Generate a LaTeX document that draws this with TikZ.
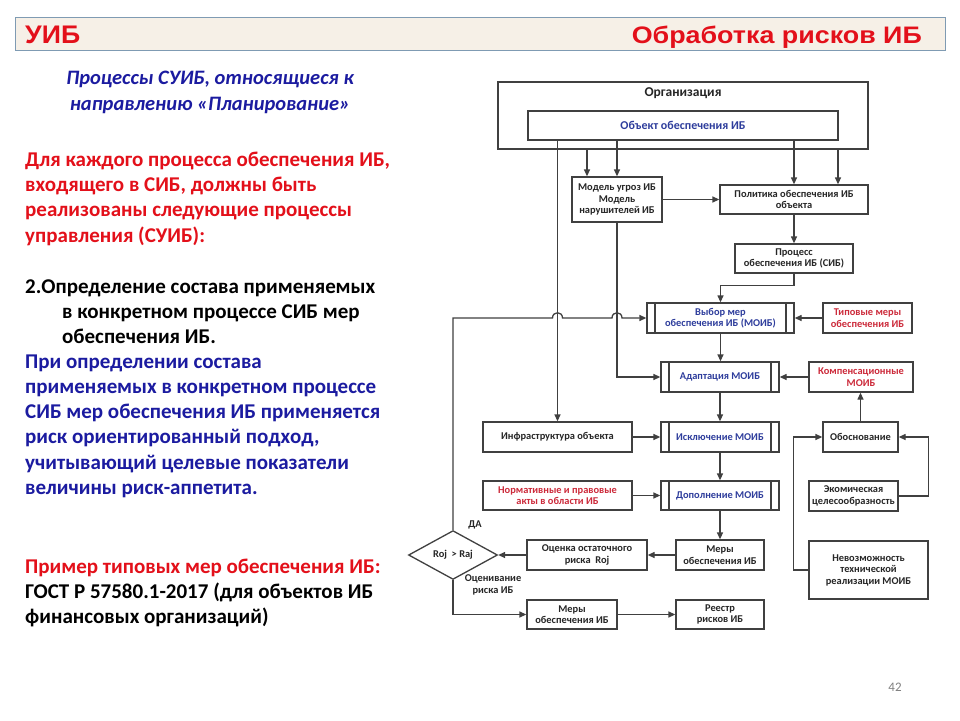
\documentclass[tikz,border=0pt]{standalone}
\usepackage{graphicx}
\usepackage{fontspec}
\setmainfont{Carlito}
\newfontfamily\arialfont{Liberation Sans}
\usetikzlibrary{shapes.geometric,arrows.meta}
\definecolor{hdrfill}{HTML}{F6F0E7}
\definecolor{hdrdraw}{HTML}{7F9BB3}
\definecolor{tred}{HTML}{E3101A}
\definecolor{tblue}{HTML}{1B1BA0}
\definecolor{dblue}{HTML}{2E3D9C}
\definecolor{dred}{HTML}{CC2A3A}
\definecolor{lin}{HTML}{404040}
\begin{document}
\begin{tikzpicture}[x=1pt,y=-1pt,
 box/.style={draw=lin, line width=1.3pt, fill=white, align=center, inner sep=1pt,
   font=\fontsize{10.4}{11.5}\selectfont\bfseries, text=black!85},
 dbox/.style={box, path picture={\draw[lin, line width=1.3pt]
   ([xshift=8pt]path picture bounding box.north west) -- ([xshift=8pt]path picture bounding box.south west)
   ([xshift=-8pt]path picture bounding box.north east) -- ([xshift=-8pt]path picture bounding box.south east);}},
 ln/.style={draw=lin, line width=1.3pt},
 arr/.style={ln, -{Triangle[length=7pt,width=6pt]}},
 lt/.style={anchor=base west, align=left, inner sep=0pt, font=\fontsize{21}{25.3}\selectfont\bfseries},
 lbl/.style={inner sep=0pt, align=center, font=\fontsize{10.4}{11.5}\selectfont\bfseries, text=black!85}
]
\useasboundingbox (0,0) rectangle (960,720);
\fill[white] (0,0) rectangle (960,720);

% header
\node[draw=hdrdraw, fill=hdrfill, line width=1pt, minimum width=930pt, minimum height=33pt, inner sep=0pt] (hdr) at (480,33.5) {};
\node[anchor=base west, text=tred, inner sep=0pt] (h1) at (25,43) {\resizebox{55pt}{17.5pt}{\arialfont\bfseries УИБ}};
\node[anchor=base east, text=tred, inner sep=0pt] (h2) at (922,43) {\resizebox{290pt}{17.5pt}{\arialfont\bfseries Обработка рисков ИБ}};

% left text (anchor = baseline of last line)
\node[anchor=base, align=center, inner sep=0pt, font=\fontsize{20.5}{26}\selectfont\bfseries\itshape, text=tblue] (ttl) at (210,110)
  {Процессы СУИБ, относящиеся к\\направлению «Планирование»};
\node[lt, text=tred] (t1) at (25,242) {Для каждого процесса обеспечения ИБ,\\входящего в СИБ, должны быть\\реализованы  следующие процессы\\управления  (СУИБ):};
\node[lt, text=black] (t2) at (25,343.6) {2.Определение состава применяемых\\\hspace*{37pt}в конкретном  процессе СИБ мер\\\hspace*{37pt}обеспечения  ИБ.};
\node[lt, text=tblue] (t3) at (25,494.5) {При определении состава\\применяемых в конкретном  процессе\\СИБ мер обеспечения  ИБ применяется\\риск ориентированный  подход,\\учитывающий целевые показатели\\величины риск-аппетита.};
\node[lt, text=tred] (t4) at (25,573) {Пример типовых мер обеспечения ИБ:};
\node[lt, text=black] (t5) at (25,623.3) {ГОСТ Р 57580.1-2017 (для объектов ИБ\\финансовых организаций)};

% diagram boxes
\node[box, minimum width=370pt, minimum height=67pt] (org) at (683,115.5) {};
\node[lbl, font=\fontsize{13.5}{15}\selectfont\bfseries] (orgt) at (683,93) {Организация};
\node[box, minimum width=310pt, minimum height=29pt, text=dblue, font=\fontsize{12}{13}\selectfont\bfseries] (obj) at (683,125.5) {Объект обеспечения ИБ};
\node[box, minimum width=90pt, minimum height=45pt] (model) at (617,199.5) {Модель угроз ИБ\\Модель\\нарушителей ИБ};
\node[box, minimum width=148pt, minimum height=29pt] (pol) at (794,199.5) {Политика обеспечения ИБ\\объекта};
\node[box, minimum width=118pt, minimum height=29pt] (proc) at (794,258.5) {Процесс\\обеспечения ИБ (СИБ)};
\node[dbox, minimum width=147pt, minimum height=30pt, text=dblue] (vybor) at (720.5,318) {Выбор мер\\обеспечения ИБ (МОИБ)};
\node[box, minimum width=89pt, minimum height=30pt, text=dred] (tip) at (867.5,318) {Типовые меры\\обеспечения ИБ};
\node[dbox, minimum width=118pt, minimum height=30pt, text=dblue] (adapt) at (720,377) {Адаптация МОИБ};
\node[box, minimum width=104pt, minimum height=30pt, text=dred] (komp) at (861,377) {Компенсационные\\МОИБ};
\node[box, minimum width=149pt, minimum height=30pt] (infra) at (557.5,437) {Инфраструктура объекта};
\node[dbox, minimum width=118pt, minimum height=30pt, text=dblue] (iskl) at (720,437) {Исключение МОИБ};
\node[box, minimum width=75pt, minimum height=30pt] (obosn) at (860.5,437) {Обоснование};
\node[box, minimum width=149pt, minimum height=29pt, text=dred] (norm) at (557.5,495.5) {Нормативные и правовые\\акты в области ИБ};
\node[dbox, minimum width=118pt, minimum height=29pt, text=dblue] (dop) at (720,495.5) {Дополнение МОИБ};
\node[box, minimum width=89pt, minimum height=30pt] (ekon) at (853.5,496) {Экомическая\\целесообразность};
\node[box, minimum width=88pt, minimum height=30pt] (mery1) at (720,555) {Меры\\обеспечения ИБ};
\node[box, minimum width=120pt, minimum height=30pt] (ocenka) at (587,555) {Оценка остаточного\\риска\ \ Roj};
\node[ln, diamond, minimum width=89pt, minimum height=44pt, inner sep=0pt, lbl] (dia) at (453,555) {Roj\ \ > Raj};
\node[box, minimum width=119pt, minimum height=58pt] (nevoz) at (868.5,570) {Невозможность\\технической\\реализации МОИБ};
\node[box, minimum width=90pt, minimum height=29pt] (mery2) at (572,614.5) {Меры\\обеспечения ИБ};
\node[box, minimum width=88pt, minimum height=29pt] (reestr) at (720,614.5) {Реестр\\рисков ИБ};

\node[lbl] (da) at (475,525) {ДА};
\node[lbl] (ocl) at (493,585) {Оценивание\\риска ИБ};
\node[inner sep=0pt, font=\fontsize{13}{13}\selectfont, text=gray] (pg) at (895,687) {42};

% connectors
\draw[arr] ([xshift=-30pt]model.north |- org.south) -- ([xshift=-30pt]model.north);
\draw[arr] (obj.south -| model.north) -- (model.north);
\draw[arr] (obj.south -| pol.north) -- (pol.north);
\draw[arr] ([xshift=44pt]pol.north |- org.south) -- ([xshift=44pt]pol.north);
\draw[arr] (model.east) -- (model.east -| pol.west);
\draw[arr] (pol.south) -- (proc.north);
\draw[arr] (proc.south) -- ++(0,12) -| (vybor.north);
\draw[arr] (tip.west) -- (vybor.east);
\draw[arr] (vybor.south) -- (vybor.south |- adapt.north);
\draw[arr] (komp.west) -- (adapt.east);
\draw[arr] (adapt.south) -- (iskl.north);
\draw[arr] (obosn.north) -- (obosn.north |- komp.south);
\draw[arr] (infra.east) -- (iskl.west);
\draw[arr] (iskl.south) -- (dop.north);
\draw[arr] (norm.east) -- (dop.west);
\draw[arr] (dop.south) -- (mery1.north);
\draw[arr] (mery1.west) -- (ocenka.east);
\draw[arr] (ocenka.west) -- (dia.east);
\draw[arr] (dia.south) |- (mery2.west);
\draw[arr] (mery2.east) -- (reestr.west);
\draw[arr] (nevoz.west) -- ++(-15,0) |- (obosn.west);
\draw[arr] (ekon.east) -- ++(30,0) |- (obosn.east);
\draw[arr] (obj.south -| infra.north) -- (infra.north);
\draw[arr] (model.south) |- (adapt.west);
\coordinate (j1) at (infra.north |- vybor.west);
\coordinate (j2) at (model.south |- vybor.west);
\draw[arr] (dia.north) -- (dia.north |- vybor.west) -- ([xshift=-5pt]j1)
  .. controls ([xshift=-5pt,yshift=7pt]j1) and ([xshift=5pt,yshift=7pt]j1) .. ([xshift=5pt]j1)
  -- ([xshift=-5pt]j2)
  .. controls ([xshift=-5pt,yshift=7pt]j2) and ([xshift=5pt,yshift=7pt]j2) .. ([xshift=5pt]j2)
  -- (vybor.west);
\end{tikzpicture}
\end{document}
